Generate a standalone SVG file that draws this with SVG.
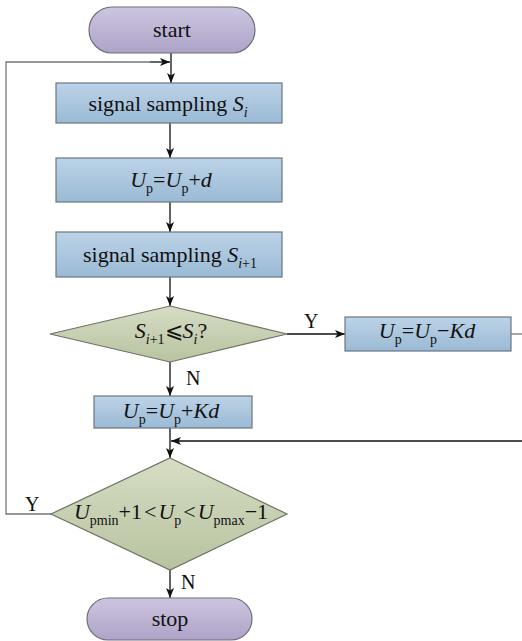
<svg xmlns="http://www.w3.org/2000/svg" width="522" height="641" viewBox="0 0 522 641">
<defs>
<linearGradient id="gPill" x1="0" y1="0" x2="0" y2="1"><stop offset="0" stop-color="#cdc6df"/><stop offset="1" stop-color="#ada3c8"/></linearGradient>
<linearGradient id="gBox" x1="0" y1="0" x2="0" y2="1"><stop offset="0" stop-color="#bcd3e7"/><stop offset="1" stop-color="#9abad5"/></linearGradient>
<linearGradient id="gDia" x1="0" y1="0" x2="0" y2="1"><stop offset="0" stop-color="#d6ddc4"/><stop offset="1" stop-color="#b7c3a0"/></linearGradient>
<marker id="arr" viewBox="0 0 10 8" refX="10" refY="4" markerWidth="10" markerHeight="8" markerUnits="userSpaceOnUse" orient="auto">
<path d="M0,0 L10,4 L0,8 L2.5,4 Z" fill="#111"/>
</marker>
<style>
.pill{fill:url(#gPill);stroke:#6e6e7a;stroke-width:1.2}
.box{fill:url(#gBox);stroke:#6b7680;stroke-width:1.2}
.dia{fill:url(#gDia);stroke:#6d7265;stroke-width:1.2}
text{font-family:'Liberation Serif','Times New Roman','DejaVu Serif',serif}
.t{font-size:22px;fill:#111;text-anchor:middle}
.lbl{font-size:20px;fill:#111}
.i{font-style:italic}
.s{font-size:14px}
.c{fill:none;stroke:#111;stroke-width:1.3}
.g{fill:none;stroke:#777;stroke-width:1.3}
</style>
</defs>
<g id="connectors">
<line class="c" x1="171" y1="53" x2="171" y2="83" marker-end="url(#arr)"/>
<line class="c" x1="170" y1="123" x2="170" y2="158" marker-end="url(#arr)"/>
<line class="c" x1="170" y1="202" x2="170" y2="232" marker-end="url(#arr)"/>
<line class="c" x1="170" y1="277" x2="170" y2="306" marker-end="url(#arr)"/>
<line class="c" x1="170" y1="362" x2="170" y2="396" marker-end="url(#arr)"/>
<line class="c" x1="287" y1="334" x2="345" y2="334" marker-end="url(#arr)"/>
<line class="g" x1="511" y1="334" x2="522" y2="334"/>
<line class="c" x1="522" y1="441" x2="171" y2="441" marker-end="url(#arr)"/>
<line class="c" x1="170" y1="428" x2="170" y2="458" marker-end="url(#arr)"/>
<line class="c" x1="170" y1="570" x2="170" y2="598" marker-end="url(#arr)"/>
<polyline class="g" points="51,514 6,514 6,62 150,62"/>
<line class="c" x1="150" y1="62" x2="170" y2="62" marker-end="url(#arr)"/>
<text class="lbl" x="304" y="328">Y</text>
<text class="lbl" x="186" y="385">N</text>
<text class="lbl" x="25" y="511">Y</text>
<text class="lbl" x="181" y="589">N</text>
</g>
<g id="start">
<rect class="pill" x="89" y="7" width="166" height="46" rx="23"/>
<text class="t" x="172" y="37">start</text>
</g>
<g id="sample1">
<rect class="box" x="56" y="83" width="226" height="40"/>
<text class="t" x="168" y="111">signal sampling <tspan class="i">S</tspan><tspan class="s i" dy="6">i</tspan></text>
</g>
<g id="update1">
<rect class="box" x="56" y="158" width="226" height="44"/>
<text class="t" x="171" y="187"><tspan class="i">U</tspan><tspan class="s" dy="6">p</tspan><tspan dy="-6">=</tspan><tspan class="i">U</tspan><tspan class="s" dy="6">p</tspan><tspan dy="-6">+</tspan><tspan class="i">d</tspan></text>
</g>
<g id="sample2">
<rect class="box" x="56" y="232" width="226" height="45"/>
<text class="t" x="170" y="262">signal sampling <tspan class="i">S</tspan><tspan class="s" dy="6"><tspan class="i">i</tspan>+1</tspan></text>
</g>
<g id="decision1">
<polygon class="dia" points="170,306 287,334 170,362 50,334"/>
<text class="t" x="171" y="338"><tspan class="i">S</tspan><tspan class="s" dy="6"><tspan class="i">i</tspan>+1</tspan><tspan dy="-6">⩽</tspan><tspan class="i">S</tspan><tspan class="s i" dy="6">i</tspan><tspan dy="-6">?</tspan></text>
</g>
<g id="update_minus">
<rect class="box" x="345" y="317" width="166" height="34"/>
<text class="t" x="427" y="338"><tspan class="i">U</tspan><tspan class="s" dy="6">p</tspan><tspan dy="-6">=</tspan><tspan class="i">U</tspan><tspan class="s" dy="6">p</tspan><tspan dy="-6">−</tspan><tspan class="i">Kd</tspan></text>
</g>
<g id="update_plus">
<rect class="box" x="94" y="396" width="158" height="32"/>
<text class="t" x="171" y="418"><tspan class="i">U</tspan><tspan class="s" dy="6">p</tspan><tspan dy="-6">=</tspan><tspan class="i">U</tspan><tspan class="s" dy="6">p</tspan><tspan dy="-6">+</tspan><tspan class="i">Kd</tspan></text>
</g>
<g id="decision2">
<polygon class="dia" points="170,458 287,514 170,570 51,514"/>
<text class="t" x="171" y="519"><tspan class="i">U</tspan><tspan class="s" dy="6">pmin</tspan><tspan dy="-6">+1</tspan><tspan dx="2">&lt;</tspan><tspan class="i" dx="2">U</tspan><tspan class="s" dy="6">p</tspan><tspan dy="-6" dx="2">&lt;</tspan><tspan class="i" dx="2">U</tspan><tspan class="s" dy="6">pmax</tspan><tspan dy="-6">−1</tspan></text>
</g>
<g id="stop">
<rect class="pill" x="87" y="598" width="165" height="42" rx="21"/>
<text class="t" x="170" y="626">stop</text>
</g>
</svg>
